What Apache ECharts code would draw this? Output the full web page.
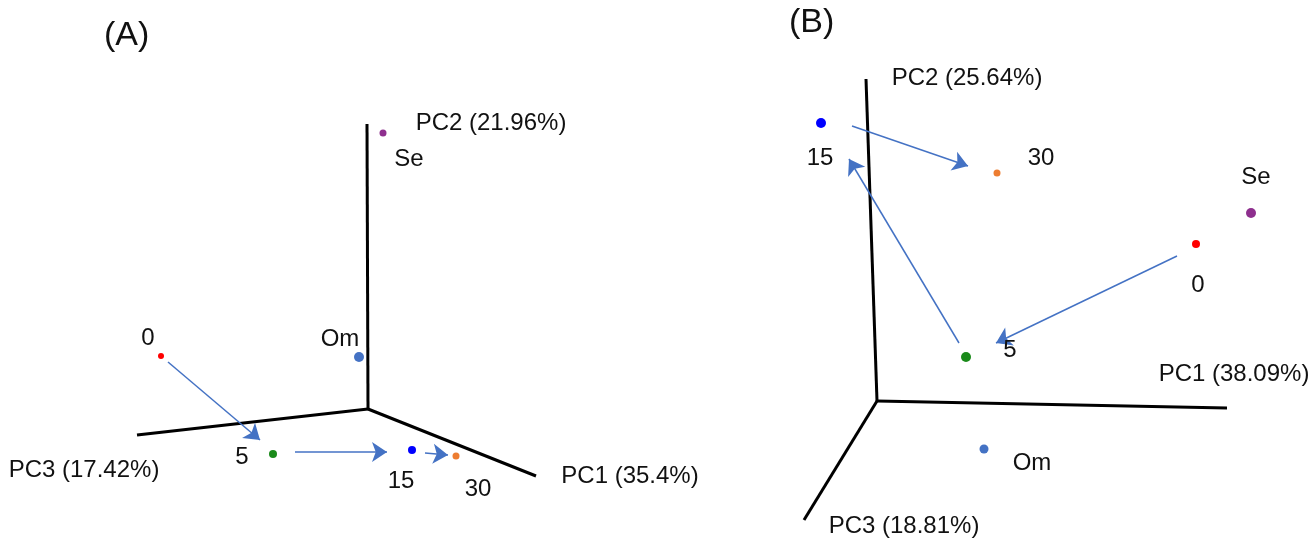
<!DOCTYPE html>
<html>
<head>
<meta charset="utf-8">
<script src="https://cdn.jsdelivr.net/npm/echarts@6/dist/echarts.min.js"></script>
<style>
  html, body { margin: 0; padding: 0; background: #fff; }
  #chart { width: 1314px; height: 540px; }
</style>
</head>
<body>
<div id="chart"></div>
<script>
// Sample labels (time points and reference groups)
const sampleNames = ['0', '5', '15', '30', 'Se', 'Om'];

// Panel A: projected PCA scores (screen-plane projection, origin at the axes' corner)
const scoresA_x = [-207, -95, 44, 88, 15, -9];
const scoresA_y = [53, -45, -41, -47, 276, 52];

// Panel B: projected PCA scores
const scoresB_x = [319, 89, -56, 120, 374, 107];
const scoresB_y = [157, 44, 278, 228, 188, -48];

// Projected axis end points (PC1, PC2, PC3) for each panel
const axisNames = ['PC1', 'PC2', 'PC3'];
const axisTitlesA = ['PC1 (35.4%)', 'PC2 (21.96%)', 'PC3 (17.42%)'];
const axisTitlesB = ['PC1 (38.09%)', 'PC2 (25.64%)', 'PC3 (18.81%)'];
const axisEndA_x = [168, -1, -231];
const axisEndA_y = [-67, 285, -26];
const axisEndB_x = [350, -11, -73];
const axisEndB_y = [-7, 322, -119];

// Trajectory arrows (start -> tip) in projected coordinates
const arrowsA = [
  [[-200, 47], [-108, -31]],   // 0 -> 5
  [[-73, -43], [19, -43]],     // 5 -> 15
  [[57, -44], [80, -46]]       // 15 -> 30
];
const arrowsB = [
  [[300, 145], [119, 58]],     // 0 -> 5
  [[82, 58], [-28, 242]],      // 5 -> 15
  [[-25, 275], [91, 235]]      // 15 -> 30
];

// ---- styles ----
const FONT = "'Liberation Sans', Arial, sans-serif";
const TEXT_COLOR = '#111';
const pointColors = {
  '0': '#ff0000', '5': '#1a8a1a', '15': '#0000ff',
  '30': '#ed7d31', 'Se': '#8e2f8e', 'Om': '#4472c4'
};
const pointSizeA = { '0': 6, '5': 8, '15': 8, '30': 7, 'Se': 7, 'Om': 10 };
const pointSizeB = { '0': 8, '5': 10, '15': 10, '30': 7, 'Se': 10, 'Om': 9 };
const labelOffsetA = {
  '0': [-13, -18], '5': [-31, 3], '15': [-11, 31], '30': [22, 33],
  'Se': [26, 26], 'Om': [-19, -18]
};
const labelOffsetB = {
  '0': [2, 41], '5': [44, -7], '15': [-1, 35], '30': [44, -15],
  'Se': [5, -36], 'Om': [48, 14]
};
const axisLabelOffsetA = { 'PC1': [94, 0], 'PC2': [124, -1], 'PC3': [-53, 35] };
const axisLabelOffsetB = { 'PC1': [7, -34], 'PC2': [101, -1], 'PC3': [100, 6] };

function pointData(xs, ys, sizes, offsets) {
  return sampleNames.map((n, i) => ({
    name: n,
    value: [xs[i], ys[i]],
    symbolSize: sizes[n],
    itemStyle: { color: pointColors[n], opacity: 1 },
    label: { offset: offsets[n] }
  }));
}

function axisLineData(xs, ys) {
  return axisNames.map((n, i) => ({ coords: [[0, 0], [xs[i], ys[i]]] }));
}

function axisTitleData(xs, ys, titles, offsets) {
  return axisNames.map((n, i) => ({
    name: titles[i],
    value: [xs[i], ys[i]],
    label: { offset: offsets[n] }
  }));
}

const labelStyle = {
  show: true, position: 'inside', formatter: '{b}',
  color: TEXT_COLOR, fontSize: 24, fontFamily: FONT, opacity: 1
};

function panelSeries(idx, xs, ys, sizes, offsets, axX, axY, titles, axOffsets, arrows) {
  return [
    {
      type: 'lines', coordinateSystem: 'cartesian2d',
      xAxisIndex: idx, yAxisIndex: idx,
      symbol: 'none',
      lineStyle: { color: '#000', width: 3, opacity: 1 },
      data: axisLineData(axX, axY), z: 1
    },
    {
      type: 'lines', coordinateSystem: 'cartesian2d',
      xAxisIndex: idx, yAxisIndex: idx,
      symbol: ['none', 'arrow'], symbolSize: 15,
      lineStyle: { color: '#4472c4', width: 1.5, opacity: 1 },
      data: arrows.map(a => ({ coords: a })), z: 2
    },
    {
      type: 'scatter', xAxisIndex: idx, yAxisIndex: idx,
      data: pointData(xs, ys, sizes, offsets),
      itemStyle: { opacity: 1 },
      label: labelStyle,
      emphasis: { disabled: true }, z: 3
    },
    {
      type: 'scatter', xAxisIndex: idx, yAxisIndex: idx,
      symbolSize: 0,
      itemStyle: { opacity: 1 },
      data: axisTitleData(axX, axY, titles, axOffsets),
      label: labelStyle,
      emphasis: { disabled: true }, z: 3
    }
  ];
}

const hiddenAxis = { type: 'value', show: false, splitLine: { show: false } };

const option = {
  animation: false,
  backgroundColor: '#fff',
  title: [
    { text: '(A)', left: 104, top: 19, padding: 0,
      textStyle: { fontSize: 34, fontWeight: 'normal', color: TEXT_COLOR, fontFamily: FONT } },
    { text: '(B)', left: 789, top: 6, padding: 0,
      textStyle: { fontSize: 34, fontWeight: 'normal', color: TEXT_COLOR, fontFamily: FONT } }
  ],
  grid: [
    { left: 0, top: 0, width: 657, height: 540 },
    { left: 657, top: 0, width: 657, height: 540 }
  ],
  xAxis: [
    Object.assign({ gridIndex: 0, min: -368, max: 289 }, hiddenAxis),
    Object.assign({ gridIndex: 1, min: -220, max: 437 }, hiddenAxis)
  ],
  yAxis: [
    Object.assign({ gridIndex: 0, min: -131, max: 409 }, hiddenAxis),
    Object.assign({ gridIndex: 1, min: -139, max: 401 }, hiddenAxis)
  ],
  series: [
    ...panelSeries(0, scoresA_x, scoresA_y, pointSizeA, labelOffsetA,
      axisEndA_x, axisEndA_y, axisTitlesA, axisLabelOffsetA, arrowsA),
    ...panelSeries(1, scoresB_x, scoresB_y, pointSizeB, labelOffsetB,
      axisEndB_x, axisEndB_y, axisTitlesB, axisLabelOffsetB, arrowsB)
  ]
};

const chart = echarts.init(document.getElementById('chart'), null, { renderer: 'canvas' });
chart.setOption(option);
</script>
</body>
</html>
